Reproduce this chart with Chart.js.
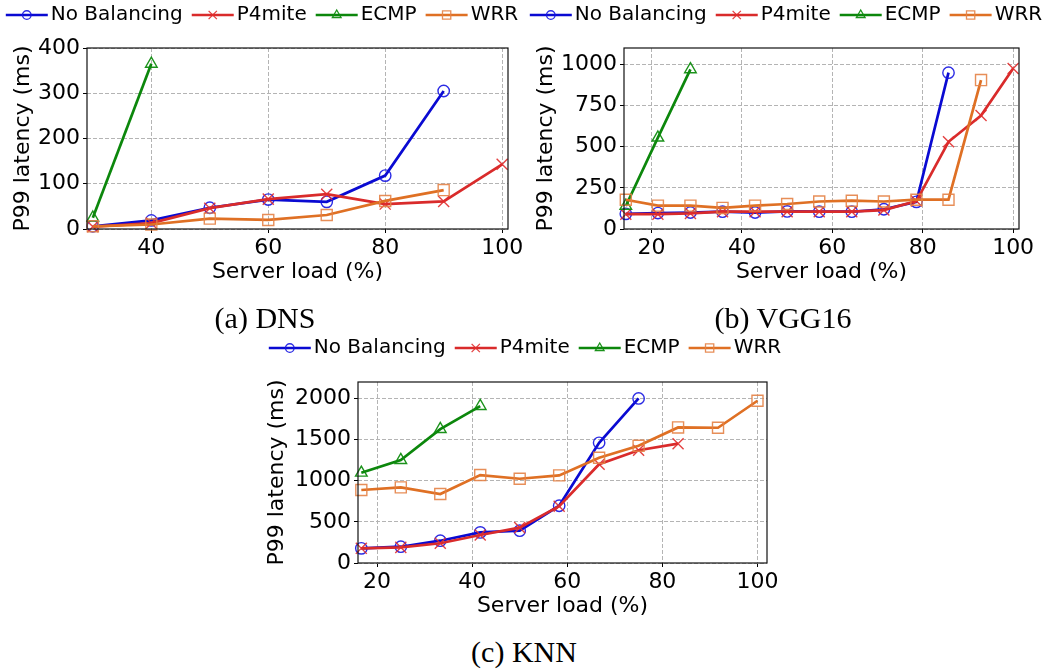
<!DOCTYPE html>
<html>
<head>
<meta charset="utf-8">
<script src="https://cdn.jsdelivr.net/npm/chart.js@4.4.0/dist/chart.umd.min.js"></script>
<style>
  body { margin: 0; background: #fff; width: 1062px; height: 669px; position: relative; overflow: hidden; }
  canvas { position: absolute; }
  .caption { position: absolute; font-family: "Liberation Serif", serif; font-size: 30px; line-height: 1; color: #000; transform: translateX(-50%); white-space: nowrap; }
</style>
</head>
<body>
<canvas id="dns" width="530" height="300" style="left:0px;top:0px"></canvas>
<canvas id="vgg" width="542" height="300" style="left:520px;top:0px"></canvas>
<canvas id="knn" width="540" height="300" style="left:260px;top:330px"></canvas>
<div class="caption" style="left:265px;top:303px">(a) DNS</div>
<div class="caption" style="left:783px;top:303px">(b) VGG16</div>
<div class="caption" style="left:524px;top:637px">(c) KNN</div>
<script>
// series names, shared by the three panels
const names = ['No Balancing', 'P4mite', 'ECMP', 'WRR'];
const loadTicks = [20, 40, 60, 80, 100];

// (a) DNS
const dnsLoad = [30, 40, 50, 60, 70, 80, 90, 100];
const dnsNoBal = [6, 19, 47, 65, 60, 118, 305];
const dnsP4mite = [5, 13, 46, 66, 77, 55, 61, 143];
const dnsEcmp = [25, 365];
const dnsWrr = [6, 10, 23, 20, 31, 62, 86];
const dnsYTicks = [0, 100, 200, 300, 400];

// (b) VGG16
const vggLoad = [14.3, 21.4, 28.6, 35.7, 42.9, 50, 57.1, 64.3, 71.4, 78.6, 85.7, 92.9, 100];
const vggNoBal = [92, 97, 100, 105, 100, 107, 105, 105, 120, 165, 950];
const vggP4mite = [90, 90, 95, 105, 105, 105, 105, 105, 115, 170, 530, 690, 975];
const vggEcmp = [140, 555, 970];
const vggWrr = [178, 142, 142, 128, 142, 152, 167, 172, 167, 178, 178, 905];
const vggYTicks = [0, 250, 500, 750, 1000];

// (c) KNN
const knnLoad = [16.7, 25, 33.3, 41.7, 50, 58.3, 66.7, 75, 83.3, 91.7, 100];
const knnNoBal = [178, 198, 271, 372, 393, 696, 1461, 2000];
const knnP4mite = [178, 190, 240, 340, 430, 690, 1200, 1370, 1450];
const knnEcmp = [1097, 1251, 1627, 1907];
const knnWrr = [887, 919, 838, 1069, 1024, 1065, 1279, 1425, 1648, 1644, 1972];
const knnYTicks = [0, 500, 1000, 1500, 2000];

const styles = [
  { borderColor: '#0a0ad2', pointBorderColor: 'rgba(20,20,225,0.9)', pointStyle: 'circle', pointRadius: 5.7, order: 4 },
  { borderColor: '#d92b2b', pointBorderColor: 'rgba(225,45,45,0.9)', pointStyle: 'crossRot', pointRadius: 7.8, order: 3 },
  { borderColor: '#0c870c', pointBorderColor: 'rgba(15,140,15,0.95)', pointStyle: 'triangle', pointRadius: 6.7, order: 2 },
  { borderColor: '#df7024', pointBorderColor: 'rgba(228,130,70,0.9)', pointStyle: 'rect', pointRadius: 7.8, order: 1 }
];

Chart.defaults.font.family = '"DejaVu Sans", sans-serif';
Chart.defaults.font.size = 22;
Chart.defaults.color = '#000';

function makeDatasets(xs, seriesList) {
  return seriesList.map((ys, i) => ({
    label: names[i],
    data: ys.map((y, k) => ({ x: xs[k], y: y })),
    borderWidth: 2.7,
    pointBorderWidth: 1.4,
    pointBackgroundColor: 'rgba(0,0,0,0)',
    tension: 0,
    clip: 10,
    ...styles[i]
  }));
}

// legend drawn as matplotlib does it: short line with the marker on it
const lineLegend = {
  id: 'lineLegend',
  afterDraw(chart, args, opts) {
    const ctx = chart.ctx;
    const handle = 42, pad = 3, gap = 9;
    ctx.save();
    ctx.font = '20px "DejaVu Sans"';
    ctx.textBaseline = 'middle';
    const items = chart.data.datasets.map(ds => ({ ds: ds, w: ctx.measureText(ds.label).width }));
    const total = items.reduce((s, it) => s + handle + pad + it.w, 0) + gap * (items.length - 1);
    let x = opts.centerX - total / 2;
    const y = opts.y;
    items.forEach(({ ds, w }) => {
      ctx.setLineDash([]);
      ctx.strokeStyle = ds.borderColor;
      ctx.lineWidth = 2.4;
      ctx.beginPath();
      ctx.moveTo(x, y);
      ctx.lineTo(x + handle, y);
      ctx.stroke();
      ctx.strokeStyle = ds.pointBorderColor;
      ctx.fillStyle = 'rgba(0,0,0,0)';
      ctx.lineWidth = 1.3;
      Chart.helpers.drawPoint(ctx, { pointStyle: ds.pointStyle, radius: ds.pointRadius * 0.75, borderWidth: 1.3, rotation: 0 }, x + handle / 2, y);
      ctx.fillStyle = '#000';
      ctx.fillText(ds.label, x + handle + pad, y);
      x += handle + pad + w + gap;
    });
    ctx.restore();
  }
};

// black box round the plot area
const frame = {
  id: 'frame',
  afterDatasetsDraw(chart) {
    const { ctx, chartArea: a } = chart;
    ctx.save();
    ctx.strokeStyle = '#111';
    ctx.lineWidth = 1.2;
    ctx.strokeRect(a.left, a.top, a.right - a.left, a.bottom - a.top);
    ctx.restore();
  }
};

function makeChart(id, xs, seriesList, opt) {
  new Chart(document.getElementById(id), {
    type: 'line',
    data: { datasets: makeDatasets(xs, seriesList) },
    plugins: [lineLegend, frame],
    options: {
      responsive: false,
      animation: false,
      devicePixelRatio: 1,
      layout: { padding: opt.padding },
      plugins: {
        legend: { display: false },
        tooltip: { enabled: false },
        lineLegend: { centerX: opt.legendX, y: opt.legendY }
      },
      scales: {
        x: {
          type: 'linear',
          min: opt.xMin, max: opt.xMax,
          afterBuildTicks(s) { s.ticks = loadTicks.filter(v => v >= opt.xMin && v <= opt.xMax).map(v => ({ value: v })); },
          ticks: { maxRotation: 0, autoSkip: false, padding: 2, callback: v => String(v) },
          grid: { color: '#b4b4b4', lineWidth: 1, tickColor: '#000', tickLength: 4, tickBorderDash: [] },
          border: { display: false, dash: [4, 2] },
          title: { display: true, text: 'Server load (%)', font: { size: 22 }, padding: { top: 0, bottom: 0 } },
          afterFit(s) { s.height = 56; s.paddingLeft = 0; s.paddingRight = 0; }
        },
        y: {
          min: 0, max: opt.yMax,
          afterBuildTicks(s) { s.ticks = opt.yTicks.map(v => ({ value: v })); },
          ticks: { padding: 3, autoSkip: false, callback: v => String(v) },
          grid: { color: '#b4b4b4', lineWidth: 1, tickColor: '#000', tickLength: 4, tickBorderDash: [] },
          border: { display: false, dash: [4, 2] },
          title: { display: true, text: 'P99 latency (ms)', font: { size: 22 }, padding: { top: opt.yTitlePad, bottom: 0 } },
          afterFit(s) { s.width = opt.yWidth; s.paddingTop = 0; s.paddingBottom = 0; }
        }
      }
    }
  });
}

makeChart('dns', dnsLoad, [dnsNoBal, dnsP4mite, dnsEcmp, dnsWrr], {
  padding: { left: 0, right: 22, top: 48, bottom: 15 },
  xMin: 29, xMax: 101, yMax: 400, yTicks: dnsYTicks,
  yWidth: 87, yTitlePad: 10, legendX: 262, legendY: 15
});

makeChart('vgg', vggLoad, [vggNoBal, vggP4mite, vggEcmp, vggWrr], {
  padding: { left: 0, right: 43, top: 48, bottom: 15 },
  xMin: 13.9, xMax: 101.3, yMax: 1100, yTicks: vggYTicks,
  yWidth: 104, yTitlePad: 13, legendX: 266, legendY: 15
});

makeChart('knn', knnLoad, [knnNoBal, knnP4mite, knnEcmp, knnWrr], {
  padding: { left: 0, right: 33, top: 52, bottom: 11 },
  xMin: 16, xMax: 102, yMax: 2200, yTicks: knnYTicks,
  yWidth: 98, yTitlePad: 4, legendX: 265, legendY: 18
});
</script>
</body>
</html>
